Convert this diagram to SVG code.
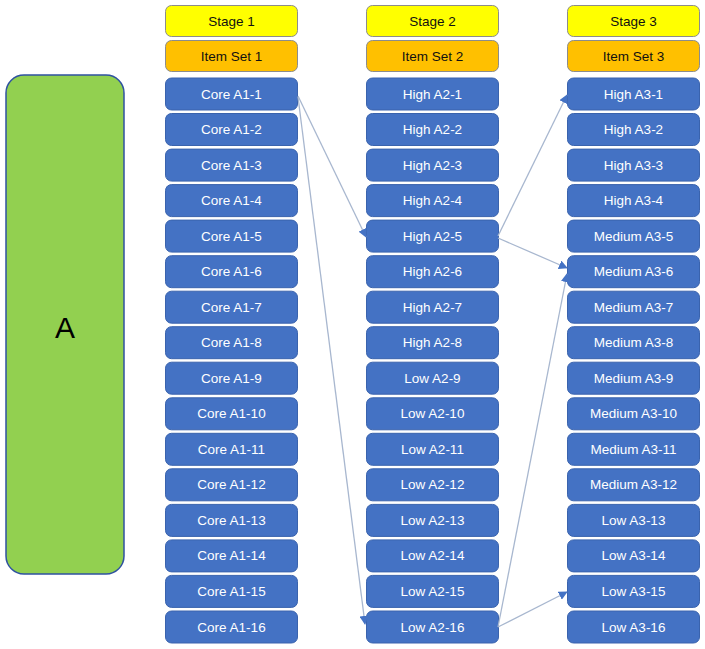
<svg xmlns="http://www.w3.org/2000/svg" width="705" height="649" viewBox="0 0 705 649">
<style>
.b{fill:#4472c4;stroke:#3a63ad;stroke-width:1}
.t{fill:#fff;font-family:"Liberation Sans",Arial,sans-serif;font-size:13.5px;text-anchor:middle;dominant-baseline:central}
.h{fill:#111;font-family:"Liberation Sans",Arial,sans-serif;font-size:13.5px;text-anchor:middle;dominant-baseline:central}
.st{fill:#ffff00;stroke:#8c8c8c;stroke-width:1}
.is{fill:#ffc000;stroke:#8c8c8c;stroke-width:1}
.c{fill:none;stroke:#a8b7cf;stroke-width:1.3;marker-end:url(#ah)}
</style>
<defs>
<marker id="ah" viewBox="0 0 10 10" refX="9" refY="5" markerWidth="9" markerHeight="9" markerUnits="userSpaceOnUse" orient="auto"><path d="M0,0L10,5L0,10z" fill="#4472c4"/></marker>
</defs>
<rect width="705" height="649" fill="#fff"/>
<g id="A"><rect x="6" y="75" width="118" height="499" rx="18" fill="#92d050" stroke="#2f52a0" stroke-width="1.5"/><text x="65" y="327" font-family="Liberation Sans,Arial,sans-serif" font-size="30" text-anchor="middle" dominant-baseline="central">A</text></g>
<g id="headers">
<g id="stage1"><rect class="st" x="165.5" y="5.5" width="132" height="31" rx="6"/><text class="h" x="231.5" y="21">Stage 1</text></g>
<g id="stage2"><rect class="st" x="366.5" y="5.5" width="132" height="31" rx="6"/><text class="h" x="432.5" y="21">Stage 2</text></g>
<g id="stage3"><rect class="st" x="567.5" y="5.5" width="132" height="31" rx="6"/><text class="h" x="633.5" y="21">Stage 3</text></g>
<g id="itemset1"><rect class="is" x="165.5" y="40.5" width="132" height="31" rx="6"/><text class="h" x="231.5" y="56">Item Set 1</text></g>
<g id="itemset2"><rect class="is" x="366.5" y="40.5" width="132" height="31" rx="6"/><text class="h" x="432.5" y="56">Item Set 2</text></g>
<g id="itemset3"><rect class="is" x="567.5" y="40.5" width="132" height="31" rx="6"/><text class="h" x="633.5" y="56">Item Set 3</text></g>
</g>
<g id="col1">
<g id="c1-1"><rect class="b" x="165.5" y="78" width="132" height="32" rx="6"/><text class="t" x="231.5" y="94">Core A1-1</text></g>
<g id="c1-2"><rect class="b" x="165.5" y="113.5" width="132" height="32" rx="6"/><text class="t" x="231.5" y="129.5">Core A1-2</text></g>
<g id="c1-3"><rect class="b" x="165.5" y="149.1" width="132" height="32" rx="6"/><text class="t" x="231.5" y="165.1">Core A1-3</text></g>
<g id="c1-4"><rect class="b" x="165.5" y="184.6" width="132" height="32" rx="6"/><text class="t" x="231.5" y="200.6">Core A1-4</text></g>
<g id="c1-5"><rect class="b" x="165.5" y="220.1" width="132" height="32" rx="6"/><text class="t" x="231.5" y="236.1">Core A1-5</text></g>
<g id="c1-6"><rect class="b" x="165.5" y="255.7" width="132" height="32" rx="6"/><text class="t" x="231.5" y="271.7">Core A1-6</text></g>
<g id="c1-7"><rect class="b" x="165.5" y="291.2" width="132" height="32" rx="6"/><text class="t" x="231.5" y="307.2">Core A1-7</text></g>
<g id="c1-8"><rect class="b" x="165.5" y="326.7" width="132" height="32" rx="6"/><text class="t" x="231.5" y="342.7">Core A1-8</text></g>
<g id="c1-9"><rect class="b" x="165.5" y="362.2" width="132" height="32" rx="6"/><text class="t" x="231.5" y="378.2">Core A1-9</text></g>
<g id="c1-10"><rect class="b" x="165.5" y="397.8" width="132" height="32" rx="6"/><text class="t" x="231.5" y="413.8">Core A1-10</text></g>
<g id="c1-11"><rect class="b" x="165.5" y="433.3" width="132" height="32" rx="6"/><text class="t" x="231.5" y="449.3">Core A1-11</text></g>
<g id="c1-12"><rect class="b" x="165.5" y="468.8" width="132" height="32" rx="6"/><text class="t" x="231.5" y="484.8">Core A1-12</text></g>
<g id="c1-13"><rect class="b" x="165.5" y="504.4" width="132" height="32" rx="6"/><text class="t" x="231.5" y="520.4">Core A1-13</text></g>
<g id="c1-14"><rect class="b" x="165.5" y="539.9" width="132" height="32" rx="6"/><text class="t" x="231.5" y="555.9">Core A1-14</text></g>
<g id="c1-15"><rect class="b" x="165.5" y="575.4" width="132" height="32" rx="6"/><text class="t" x="231.5" y="591.4">Core A1-15</text></g>
<g id="c1-16"><rect class="b" x="165.5" y="611" width="132" height="32" rx="6"/><text class="t" x="231.5" y="627">Core A1-16</text></g>
</g>
<g id="col2">
<g id="c2-1"><rect class="b" x="366.5" y="78" width="132" height="32" rx="6"/><text class="t" x="432.5" y="94">High A2-1</text></g>
<g id="c2-2"><rect class="b" x="366.5" y="113.5" width="132" height="32" rx="6"/><text class="t" x="432.5" y="129.5">High A2-2</text></g>
<g id="c2-3"><rect class="b" x="366.5" y="149.1" width="132" height="32" rx="6"/><text class="t" x="432.5" y="165.1">High A2-3</text></g>
<g id="c2-4"><rect class="b" x="366.5" y="184.6" width="132" height="32" rx="6"/><text class="t" x="432.5" y="200.6">High A2-4</text></g>
<g id="c2-5"><rect class="b" x="366.5" y="220.1" width="132" height="32" rx="6"/><text class="t" x="432.5" y="236.1">High A2-5</text></g>
<g id="c2-6"><rect class="b" x="366.5" y="255.7" width="132" height="32" rx="6"/><text class="t" x="432.5" y="271.7">High A2-6</text></g>
<g id="c2-7"><rect class="b" x="366.5" y="291.2" width="132" height="32" rx="6"/><text class="t" x="432.5" y="307.2">High A2-7</text></g>
<g id="c2-8"><rect class="b" x="366.5" y="326.7" width="132" height="32" rx="6"/><text class="t" x="432.5" y="342.7">High A2-8</text></g>
<g id="c2-9"><rect class="b" x="366.5" y="362.2" width="132" height="32" rx="6"/><text class="t" x="432.5" y="378.2">Low A2-9</text></g>
<g id="c2-10"><rect class="b" x="366.5" y="397.8" width="132" height="32" rx="6"/><text class="t" x="432.5" y="413.8">Low A2-10</text></g>
<g id="c2-11"><rect class="b" x="366.5" y="433.3" width="132" height="32" rx="6"/><text class="t" x="432.5" y="449.3">Low A2-11</text></g>
<g id="c2-12"><rect class="b" x="366.5" y="468.8" width="132" height="32" rx="6"/><text class="t" x="432.5" y="484.8">Low A2-12</text></g>
<g id="c2-13"><rect class="b" x="366.5" y="504.4" width="132" height="32" rx="6"/><text class="t" x="432.5" y="520.4">Low A2-13</text></g>
<g id="c2-14"><rect class="b" x="366.5" y="539.9" width="132" height="32" rx="6"/><text class="t" x="432.5" y="555.9">Low A2-14</text></g>
<g id="c2-15"><rect class="b" x="366.5" y="575.4" width="132" height="32" rx="6"/><text class="t" x="432.5" y="591.4">Low A2-15</text></g>
<g id="c2-16"><rect class="b" x="366.5" y="611" width="132" height="32" rx="6"/><text class="t" x="432.5" y="627">Low A2-16</text></g>
</g>
<g id="col3">
<g id="c3-1"><rect class="b" x="567.5" y="78" width="132" height="32" rx="6"/><text class="t" x="633.5" y="94">High A3-1</text></g>
<g id="c3-2"><rect class="b" x="567.5" y="113.5" width="132" height="32" rx="6"/><text class="t" x="633.5" y="129.5">High A3-2</text></g>
<g id="c3-3"><rect class="b" x="567.5" y="149.1" width="132" height="32" rx="6"/><text class="t" x="633.5" y="165.1">High A3-3</text></g>
<g id="c3-4"><rect class="b" x="567.5" y="184.6" width="132" height="32" rx="6"/><text class="t" x="633.5" y="200.6">High A3-4</text></g>
<g id="c3-5"><rect class="b" x="567.5" y="220.1" width="132" height="32" rx="6"/><text class="t" x="633.5" y="236.1">Medium A3-5</text></g>
<g id="c3-6"><rect class="b" x="567.5" y="255.7" width="132" height="32" rx="6"/><text class="t" x="633.5" y="271.7">Medium A3-6</text></g>
<g id="c3-7"><rect class="b" x="567.5" y="291.2" width="132" height="32" rx="6"/><text class="t" x="633.5" y="307.2">Medium A3-7</text></g>
<g id="c3-8"><rect class="b" x="567.5" y="326.7" width="132" height="32" rx="6"/><text class="t" x="633.5" y="342.7">Medium A3-8</text></g>
<g id="c3-9"><rect class="b" x="567.5" y="362.2" width="132" height="32" rx="6"/><text class="t" x="633.5" y="378.2">Medium A3-9</text></g>
<g id="c3-10"><rect class="b" x="567.5" y="397.8" width="132" height="32" rx="6"/><text class="t" x="633.5" y="413.8">Medium A3-10</text></g>
<g id="c3-11"><rect class="b" x="567.5" y="433.3" width="132" height="32" rx="6"/><text class="t" x="633.5" y="449.3">Medium A3-11</text></g>
<g id="c3-12"><rect class="b" x="567.5" y="468.8" width="132" height="32" rx="6"/><text class="t" x="633.5" y="484.8">Medium A3-12</text></g>
<g id="c3-13"><rect class="b" x="567.5" y="504.4" width="132" height="32" rx="6"/><text class="t" x="633.5" y="520.4">Low A3-13</text></g>
<g id="c3-14"><rect class="b" x="567.5" y="539.9" width="132" height="32" rx="6"/><text class="t" x="633.5" y="555.9">Low A3-14</text></g>
<g id="c3-15"><rect class="b" x="567.5" y="575.4" width="132" height="32" rx="6"/><text class="t" x="633.5" y="591.4">Low A3-15</text></g>
<g id="c3-16"><rect class="b" x="567.5" y="611" width="132" height="32" rx="6"/><text class="t" x="633.5" y="627">Low A3-16</text></g>
</g>
<g id="connectors">
<line class="c" x1="298" y1="96" x2="366" y2="237"/>
<line class="c" x1="298" y1="97" x2="365" y2="624"/>
<line class="c" x1="498" y1="236" x2="567" y2="95"/>
<line class="c" x1="498" y1="238" x2="567" y2="268"/>
<line class="c" x1="498" y1="627" x2="567" y2="274"/>
<line class="c" x1="498" y1="627" x2="567" y2="592"/>
</g>
</svg>
